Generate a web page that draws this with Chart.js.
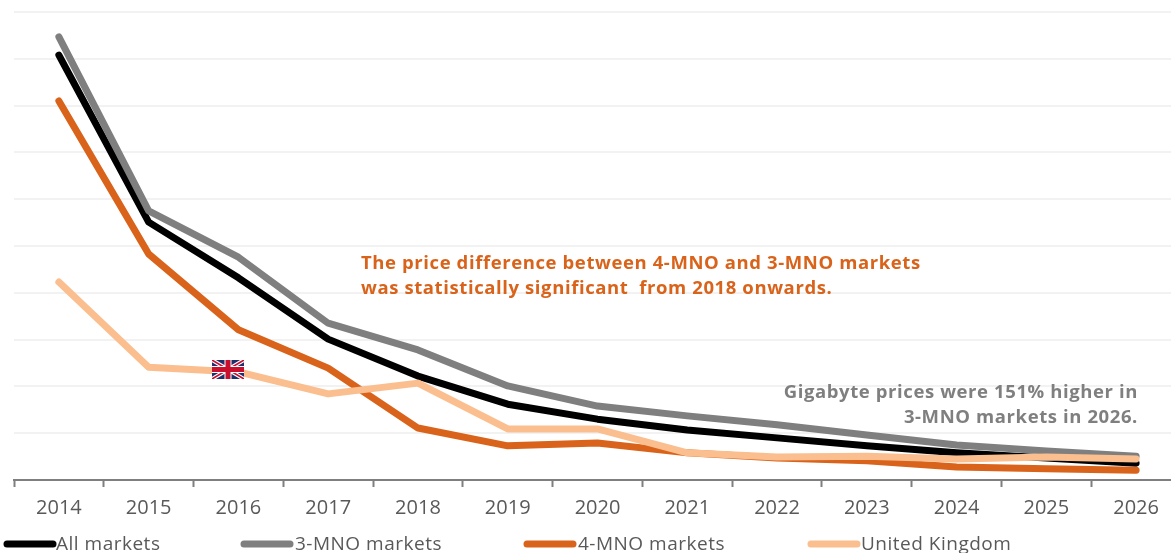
<!DOCTYPE html>
<html><head><meta charset="utf-8">
<script src="https://cdn.jsdelivr.net/npm/chart.js@4"></script>
<style>html,body{margin:0;padding:0;background:#fff;overflow:hidden;width:1171px;height:553px}canvas{display:block}</style>
</head><body><canvas id="c" width="1181" height="553"></canvas>
<script>
const years=["2014","2015","2016","2017","2018","2019","2020","2021","2022","2023","2024","2025","2026"];
const allMarkets=[90.8,55.1,43.2,30.1,22.2,16.2,13.0,10.7,9.0,7.3,5.8,4.7,3.6];
const mno3=[94.7,57.5,47.6,33.5,27.8,20.1,15.8,13.7,11.8,9.6,7.5,6.2,5.1];
const mno4=[81.0,48.3,32.1,23.9,11.1,7.3,7.9,5.8,4.7,4.1,2.8,2.4,2.1];
const uk=[42.3,24.1,23.1,18.4,20.7,10.9,10.9,5.8,4.9,5.1,4.5,4.9,4.5];
const seriesNames=["All markets","3-MNO markets","4-MNO markets","United Kingdom"];
const seriesColors=["#000000","#7F7F7F","#D9631A","#FBBE8E"];
const seriesValues=[allMarkets,mno3,mno4,uk];
const legendX=[4,241,524,808];
const legendTextX=[56,295,578,861];
const FONT='"Open Sans", sans-serif';
const overlay={id:'overlay',afterDraw(ch){
  const c=ch.ctx;c.save();
  // legend
  c.textBaseline='middle';c.textAlign='left';c.font='19px '+FONT;c.letterSpacing='0.5px';
  seriesNames.forEach((n,i)=>{
    c.strokeStyle=seriesColors[i];c.lineWidth=7;c.lineCap='round';
    c.beginPath();c.moveTo(legendX[i]+3,544);c.lineTo(legendX[i]+49,544);c.stroke();
    c.fillStyle='#595959';c.fillText(n,legendTextX[i],545);
  });
  // notes
  c.font='bold 18.5px '+FONT;c.letterSpacing='0.6px';c.fillStyle='#D9631A';
  c.fillText('The price difference between 4-MNO and 3-MNO markets',361,264);
  c.fillText('was statistically significant  from 2018 onwards.',361,289);
  c.fillStyle='#7F7F7F';c.textAlign='right';
  c.fillText('Gigabyte prices were 151% higher in',1138,393);
  c.fillText('3-MNO markets in 2026.',1138,418);
  c.letterSpacing='0px';
  // UK flag
  const x=212,y=360,w=32,h=19;
  c.beginPath();c.rect(x,y,w,h);c.clip();
  c.fillStyle='#1F2F6E';c.fillRect(x,y,w,h);c.lineCap='butt';
  c.strokeStyle='#fff';c.lineWidth=4;
  c.beginPath();c.moveTo(x,y);c.lineTo(x+w,y+h);c.moveTo(x+w,y);c.lineTo(x,y+h);c.stroke();
  c.strokeStyle='#C8102E';c.lineWidth=1.6;
  c.beginPath();c.moveTo(x,y);c.lineTo(x+w,y+h);c.moveTo(x+w,y);c.lineTo(x,y+h);c.stroke();
  c.fillStyle='#fff';c.fillRect(x+w/2-3.5,y,7,h);c.fillRect(x,y+h/2-3.5,w,7);
  c.fillStyle='#C8102E';c.fillRect(x+w/2-2.5,y,5,h);c.fillRect(x,y+h/2-2.5,w,5);
  c.restore();
}};
new Chart(document.getElementById('c'),{
  type:'line',
  data:{labels:years,datasets:seriesNames.map((n,i)=>({
    label:n,data:seriesValues[i],borderColor:seriesColors[i],backgroundColor:seriesColors[i],
    borderWidth:7,borderCapStyle:'round',borderJoinStyle:'round',pointRadius:0,tension:0,order:4-i,fill:false,clip:false
  }))},
  options:{
    responsive:false,animation:false,
    layout:{padding:{left:14,top:12,right:0,bottom:0}},
    plugins:{legend:{display:false},tooltip:{enabled:false}},
    scales:{
      x:{offset:true,
        grid:{offset:true,drawOnChartArea:false,drawTicks:true,tickLength:7,tickColor:'#7F7F7F',tickWidth:2},
        border:{display:true,color:'#7F7F7F',width:2},
        ticks:{color:'#595959',font:{family:FONT,size:20},padding:9,maxRotation:0,autoSkip:false},
        afterFit(s){s.height=73;}
      },
      y:{min:0,max:100,
        grid:{color:'#F2F2F2',lineWidth:2,drawTicks:false},
        border:{display:false},
        ticks:{display:false,stepSize:10}
      }
    }
  },
  plugins:[overlay]
});
</script></body></html>
